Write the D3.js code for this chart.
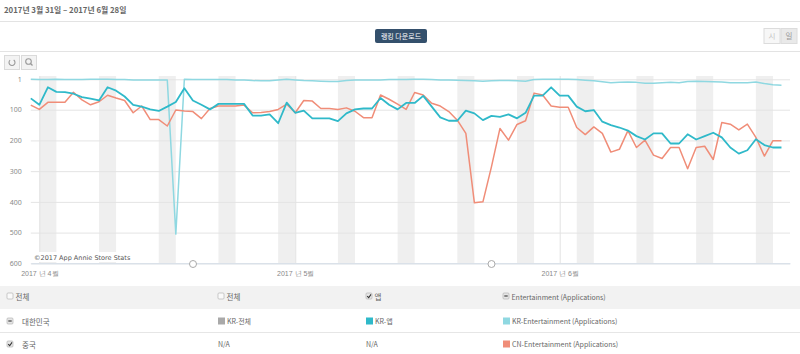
<!DOCTYPE html>
<html>
<head>
<meta charset="utf-8">
<script src="https://cdn.jsdelivr.net/npm/d3@7"></script>
<style>
  body { margin: 0; background: #fff; }
  svg { display: block; font-family: "Noto Sans CJK KR", "Noto Sans", sans-serif; }
</style>
</head>
<body>
<script>
// ranks, Mar 31 -> Jun 27 (one value per day)
var startDate = new Date(2017, 2, 31);
var endDate = new Date(2017, 5, 28);

var krApp = [63, 84, 27, 42, 43, 48, 59, 64, 70, 27, 38, 57, 84, 90, 99, 104, 90, 75, 30, 70,
    84, 99, 81, 81, 81, 81, 119, 119, 115, 144, 77, 110, 103, 128, 128, 128, 137, 112, 99, 96,
    96, 62, 84, 99, 78, 78, 55, 90, 125, 136, 136, 103, 112, 134, 120, 123, 115, 128, 110, 54,
    54, 27, 54, 54, 90, 105, 101, 139, 150, 158, 168, 186, 197, 177, 177, 210, 210, 180, 197, 186,
    175, 190, 223, 243, 232, 196, 215, 223, 223];

var krEnt = [1, 2, 2, 1, 2, 2, 2, 1, 1, 1, 2, 2, 3, 3, 3, 3, 3, 505, 1, 2,
    2, 2, 2, 2, 3, 3, 5, 6, 6, 3, 1, 3, 5, 6, 7, 8, 8, 5, 3, 3,
    3, 3, 2, 2, 2, 1, 1, 2, 3, 3, 4, 5, 6, 7, 6, 5, 5, 6, 7, 2,
    1, 1, 1, 1, 2, 4, 6, 9, 12, 11, 10, 11, 14, 14, 12, 11, 12, 8, 7, 8,
    9, 10, 12, 12, 12, 10, 15, 19, 20];

var cnEnt = [85, 99, 76, 76, 76, 43, 68, 84, 74, 53, 62, 70, 110, 88, 132, 132, 153, 101, 104, 106,
    129, 96, 88, 88, 88, 85, 110, 109, 106, 99, 82, 110, 70, 72, 96, 96, 99, 94, 105, 126,
    126, 52, 66, 82, 99, 44, 52, 79, 88, 106, 134, 177, 403, 400, 286, 161, 199, 148, 136, 46,
    52, 88, 92, 92, 158, 181, 156, 177, 238, 229, 168, 223, 199, 248, 259, 223, 223, 292, 223, 219,
    262, 142, 147, 166, 147, 190, 251, 201, 201];

var rankTicks = [1, 100, 200, 300, 400, 500, 600];
var monthTicks = [new Date(2017, 3, 1), new Date(2017, 4, 1), new Date(2017, 5, 1)];

var seriesNames = ["KR-앱", "KR-Entertainment (Applications)", "CN-Entertainment (Applications)"];
var seriesColors = ["#2fb9c9", "#8fd8e1", "#f08d78"];

var headerLabels = ["전체", "전체", "앱", "Entertainment (Applications)"];
var headerBoxes = ["off", "off", "on", "minus"];
var krCells = ["KR-전체", "KR-앱", "KR-Entertainment (Applications)"];
var krCellColors = ["#a9a9a9", "#2fb9c9", "#8fd8e1"];
var cnCells = ["N/A", "N/A", "CN-Entertainment (Applications)"];

window.onload = function() {
    drawPage();
};

function drawPage() {
    var svg = d3.select("body").append("svg").attr("width", 800).attr("height", 354);

    var dates = d3.timeDay.range(startDate, endDate);   // 89 days of data

    var plot = { left: 30.8, right: 790, top: 76, bottom: 263.3 };

    var x = d3.scaleTime()
        .domain([startDate, endDate])
        .range([plot.left, plot.right]);

    var y = d3.scaleLinear()
        .domain([1, 600])
        .range([79.3, plot.bottom]);

    // header
    svg.append("text")
        .attr("x", 4).attr("y", 13)
        .attr("font-size", 7.8).attr("font-weight", "bold").attr("fill", "#666")
        .text("2017년 3월 31일 – 2017년 6월 28일");

    svg.append("line").attr("x1", 0).attr("x2", 800).attr("y1", 21.5).attr("y2", 21.5)
        .attr("stroke", "#e3e3e3");
    svg.append("line").attr("x1", 0).attr("x2", 800).attr("y1", 51.5).attr("y2", 51.5)
        .attr("stroke", "#e3e3e3");

    // download button
    svg.append("rect")
        .attr("x", 375).attr("y", 29).attr("width", 52).attr("height", 14).attr("rx", 2)
        .attr("fill", "#34506c");
    svg.append("text")
        .attr("x", 401).attr("y", 38.5).attr("text-anchor", "middle")
        .attr("font-size", 7).attr("fill", "#fff")
        .text("랭킹 다운로드");

    // hour / day toggle
    var toggles = [{ t: "시", x: 764, fill: "#f7f7f7", c: "#c4c4c4" },
                   { t: "일", x: 781, fill: "#e9e9e9", c: "#9a9a9a" }];
    svg.selectAll(".toggle").data(toggles).enter().append("rect")
        .attr("x", function(d) { return d.x; }).attr("y", 28.5)
        .attr("width", 16).attr("height", 15)
        .attr("fill", function(d) { return d.fill; }).attr("stroke", "#dcdcdc");
    svg.selectAll(".toggleText").data(toggles).enter().append("text")
        .attr("x", function(d) { return d.x + 8; }).attr("y", 39)
        .attr("text-anchor", "middle").attr("font-size", 7.5)
        .attr("fill", function(d) { return d.c; })
        .text(function(d) { return d.t; });

    // reset / zoom buttons
    [4.5, 21.5].forEach(function(bx) {
        svg.append("rect").attr("x", bx).attr("y", 55.5).attr("width", 15).attr("height", 14)
            .attr("fill", "#f3f3f3").attr("stroke", "#dadada");
    });
    svg.append("path")
        .attr("d", d3.arc()({ innerRadius: 3, outerRadius: 3, startAngle: 0.6, endAngle: 5.6 }))
        .attr("transform", "translate(12,62.5)")
        .attr("fill", "none").attr("stroke", "#999").attr("stroke-width", 1.1);
    svg.append("circle").attr("cx", 28.5).attr("cy", 61.5).attr("r", 2.8)
        .attr("fill", "none").attr("stroke", "#999").attr("stroke-width", 1.1);
    svg.append("line").attr("x1", 30.5).attr("y1", 63.5).attr("x2", 32.5).attr("y2", 65.5)
        .attr("stroke", "#999").attr("stroke-width", 1.3);

    // weekend bands (Saturday -> Monday)
    var saturdays = dates.filter(function(d) { return d.getDay() === 6; });
    svg.append("g").selectAll("rect")
        .data(saturdays)
        .enter()
        .append("rect")
        .attr("x", function(d) { return x(d); })
        .attr("width", function(d) { return x(d3.timeDay.offset(d, 2)) - x(d); })
        .attr("y", plot.top)
        .attr("height", plot.bottom - plot.top)
        .attr("fill", "#efefef");

    // y axis with gridlines
    var yAxis = svg.append("g")
        .attr("transform", "translate(" + plot.left + ",0)")
        .call(d3.axisLeft(y).tickValues(rankTicks).tickSize(-(plot.right - plot.left)).tickPadding(9));
    yAxis.select(".domain").remove();
    yAxis.selectAll(".tick line").attr("stroke", "#e4e4e4");
    yAxis.selectAll(".tick text")
        .attr("fill", "#8a8a8a").attr("font-size", 7)
        .attr("font-family", "'Noto Sans', sans-serif");

    // x axis with month lines
    var xAxis = svg.append("g")
        .attr("transform", "translate(0," + plot.bottom + ")")
        .call(d3.axisBottom(x).tickValues(monthTicks)
            .tickSize(-(plot.bottom - plot.top)).tickSizeOuter(0).tickPadding(8)
            .tickFormat(function(d) { return "2017 년 " + (d.getMonth() + 1) + "월"; }));
    xAxis.select(".domain").attr("stroke", "#d3dde8");
    xAxis.selectAll(".tick line").attr("stroke", "#e2e2e2");
    xAxis.selectAll(".tick text").attr("fill", "#888").attr("font-size", 7);

    // lines
    var line = d3.line()
        .x(function(d, i) { return x(dates[i]); })
        .y(function(d) { return y(d); });

    var allSeries = [krEnt, cnEnt, krApp];
    var allColors = [seriesColors[1], seriesColors[2], seriesColors[0]];
    var allWidths = [1.5, 1.5, 1.8];

    svg.append("g").selectAll("path")
        .data(allSeries)
        .enter()
        .append("path")
        .attr("d", line)
        .attr("fill", "none")
        .attr("stroke", function(d, i) { return allColors[i]; })
        .attr("stroke-width", function(d, i) { return allWidths[i]; })
        .attr("stroke-linejoin", "round");

    // watermark
    svg.append("rect").attr("x", 32).attr("y", 252).attr("width", 92).attr("height", 10).attr("fill", "#fff");
    svg.append("text")
        .attr("x", 34).attr("y", 259.5)
        .attr("font-size", 6.5).attr("fill", "#555")
        .attr("font-family", "'DejaVu Sans', sans-serif")
        .text("©2017 App Annie Store Stats");

    // navigator handles
    [193, 491.5].forEach(function(hx) {
        svg.append("circle").attr("cx", hx).attr("cy", 264).attr("r", 3.5)
            .attr("fill", "#fff").attr("stroke", "#aaa").attr("stroke-width", 1);
    });

    // table
    var colX = [7, 218, 366, 503];
    svg.append("rect").attr("x", 0).attr("y", 286).attr("width", 800).attr("height", 23).attr("fill", "#f2f2f2");
    svg.append("line").attr("x1", 0).attr("x2", 800).attr("y1", 332.5).attr("y2", 332.5).attr("stroke", "#e6e6e6");

    function checkbox(cx, cy, kind) {
        svg.append("rect").attr("x", cx).attr("y", cy).attr("width", 6).attr("height", 6).attr("rx", 1)
            .attr("fill", kind === "off" ? "#fafafa" : "#e6e6e6").attr("stroke", "#b5b5b5").attr("stroke-width", 0.7);
        if (kind === "minus") {
            svg.append("line").attr("x1", cx + 1.3).attr("x2", cx + 4.7).attr("y1", cy + 3).attr("y2", cy + 3)
                .attr("stroke", "#444").attr("stroke-width", 1.2);
        } else if (kind === "on") {
            svg.append("path").attr("d", "M" + (cx + 1.2) + "," + (cy + 3.2) + "l1.5,1.5l2.3,-3.3")
                .attr("fill", "none").attr("stroke", "#333").attr("stroke-width", 1.1);
        }
    }

    headerLabels.forEach(function(label, i) {
        checkbox(colX[i], 293, headerBoxes[i]);
        svg.append("text").attr("x", colX[i] + 8.5).attr("y", 299.5)
            .attr("font-size", i === 3 ? 7 : 7.5).attr("fill", "#666").text(label);
    });

    checkbox(colX[0], 318, "minus");
    svg.append("text").attr("x", 22).attr("y", 324.5).attr("font-size", 7.5).attr("fill", "#666").text("대한민국");
    checkbox(colX[0], 341, "on");
    svg.append("text").attr("x", 22).attr("y", 347.5).attr("font-size", 7.5).attr("fill", "#666").text("중국");

    krCells.forEach(function(label, i) {
        var cx = colX[i + 1];
        svg.append("rect").attr("x", cx).attr("y", 317.5).attr("width", 7).attr("height", 7)
            .attr("fill", krCellColors[i]);
        svg.append("text").attr("x", cx + 9).attr("y", 324).attr("font-size", 7).attr("fill", "#666").text(label);
    });

    cnCells.forEach(function(label, i) {
        var cx = colX[i + 1];
        if (i === 2) {
            svg.append("rect").attr("x", cx).attr("y", 340.5).attr("width", 7).attr("height", 7)
                .attr("fill", seriesColors[2]);
            svg.append("text").attr("x", cx + 9).attr("y", 347).attr("font-size", 7).attr("fill", "#666").text(label);
        } else {
            svg.append("text").attr("x", cx).attr("y", 347).attr("font-size", 7).attr("fill", "#666").text(label);
        }
    });
}
</script>
</body>
</html>
